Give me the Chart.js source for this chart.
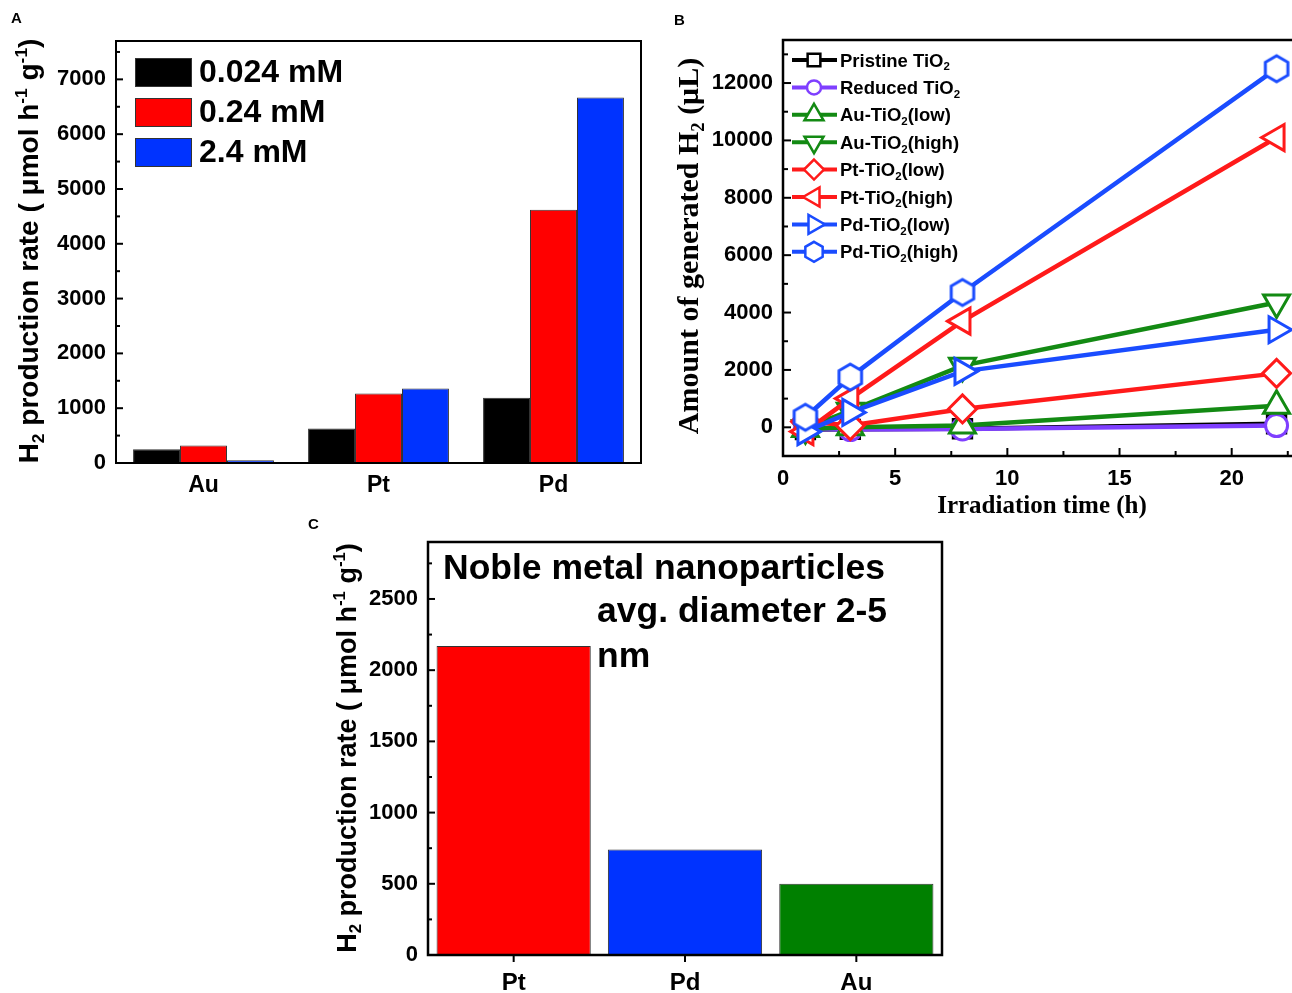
<!DOCTYPE html>
<html>
<head>
<meta charset="utf-8">
<script src="https://cdn.jsdelivr.net/npm/chart.js@4.4.1/dist/chart.umd.min.js"></script>
<style>
    html, body { margin: 0; padding: 0; background: #fff; overflow: hidden; width: 1292px; height: 993px; }
    canvas { position: absolute; }
    #chartA { left: 0; top: 0; }
    #chartB { left: 660px; top: 0; }
    #chartC { left: 300px; top: 510px; }
</style>
</head>
<body>
<canvas id="chartA" width="660" height="500" style="width:660px;height:500px"></canvas>
<canvas id="chartB" width="640" height="520" style="width:640px;height:520px"></canvas>
<canvas id="chartC" width="660" height="483" style="width:660px;height:483px"></canvas>
<script>
// ========== DATA ==========

// Panel A: rate vs precursor concentration
const metalsA = ['Au', 'Pt', 'Pd'];
const concLabels = ['0.024 mM', '0.24 mM', '2.4 mM'];
const rateLow = [250, 630, 1190];
const rateMid = [320, 1270, 4620];
const rateHigh = [50, 1360, 6670];
const yTicksA = [0, 1000, 2000, 3000, 4000, 5000, 6000, 7000];

// Panel B: generated H2 vs irradiation time
const timeH = [1, 3, 8, 22];
const seriesNamesB = ['Pristine TiO2', 'Reduced TiO2', 'Au-TiO2(low)', 'Au-TiO2(high)',
                      'Pt-TiO2(low)', 'Pt-TiO2(high)', 'Pd-TiO2(low)', 'Pd-TiO2(high)'];
const pristineTiO2 = [-80, -70, -50, 120];
const reducedTiO2 = [-60, -80, -60, 60];
const auLow = [-60, 0, 60, 750];
const auHigh = [-30, 580, 2150, 4350];
const ptLow = [200, 60, 640, 1880];
const ptHigh = [-150, 1000, 3700, 10100];
const pdLow = [-150, 520, 1950, 3400];
const pdHigh = [350, 1750, 4700, 12500];
const yTicksB = [0, 2000, 4000, 6000, 8000, 10000, 12000];
const xTicksB = [0, 5, 10, 15, 20];

// Panel C: rate by metal
const metalsC = ['Pt', 'Pd', 'Au'];
const rateC = [2170, 740, 500];
const yTicksC = [0, 500, 1000, 1500, 2000, 2500];

// ========== HELPERS ==========
const SANS = '"Liberation Sans", Arial, sans-serif';
const SERIF = '"Liberation Serif", "Times New Roman", serif';

// draws text made of parts [text, 'sub'|'sup'|''], centred (or left aligned) on x,y
function drawRich(ctx, parts, x, y, size, family, rotate, align) {
    ctx.save();
    ctx.translate(x, y);
    if (rotate) ctx.rotate(-Math.PI / 2);
    let total = 0;
    const items = parts.map(([t, k]) => {
        const fs = k ? size * 0.62 : size;
        ctx.font = `bold ${fs}px ${family}`;
        const w = ctx.measureText(t).width;
        total += w;
        return { t, k, fs, w };
    });
    let cx = align === 'left' ? 0 : -total / 2;
    ctx.textAlign = 'left';
    ctx.textBaseline = 'alphabetic';
    ctx.fillStyle = '#000';
    items.forEach(it => {
        ctx.font = `bold ${it.fs}px ${family}`;
        let dy = size * 0.36;
        if (it.k === 'sub') dy += size * 0.2;
        if (it.k === 'sup') dy -= size * 0.4;
        ctx.fillText(it.t, cx, dy);
        cx += it.w;
    });
    ctx.restore();
}

function frame(chart, lw) {
    const { ctx, chartArea: a } = chart;
    ctx.save();
    ctx.strokeStyle = '#000';
    ctx.lineWidth = lw;
    ctx.strokeRect(a.left, a.top, a.right - a.left, a.bottom - a.top);
    ctx.restore();
}

// inward ticks on the y axis (major + minor)
function yTicks(chart, step, majors, majLen, minLen) {
    const { ctx, chartArea: a } = chart;
    const s = chart.scales.y;
    ctx.save();
    ctx.strokeStyle = '#000';
    ctx.lineWidth = 2;
    const start = Math.ceil(s.min / step) * step;
    for (let v = start; v <= s.max; v += step) {
        const py = s.getPixelForValue(v);
        const len = majors.includes(v) ? majLen : minLen;
        ctx.beginPath();
        ctx.moveTo(a.left, py);
        ctx.lineTo(a.left + len, py);
        ctx.stroke();
    }
    ctx.restore();
}

function hexPath(ctx, x, y, r) {
    ctx.beginPath();
    for (let i = 0; i < 6; i++) {
        const ang = -Math.PI / 2 + i * Math.PI / 3;
        const px = x + r * Math.cos(ang), py = y + r * Math.sin(ang);
        if (i === 0) ctx.moveTo(px, py); else ctx.lineTo(px, py);
    }
    ctx.closePath();
}

function makeHexagon(r, color) {
    const c = document.createElement('canvas');
    const size = Math.ceil(2 * r + 6);
    c.width = size; c.height = size;
    const g = c.getContext('2d');
    hexPath(g, size / 2, size / 2, r);
    g.fillStyle = '#fff';
    g.fill();
    g.lineWidth = 3;
    g.strokeStyle = color;
    g.stroke();
    return c;
}

function drawMarker(ctx, style, rot, x, y, r, color) {
    ctx.save();
    ctx.beginPath();
    if (style === 'hex') {
        hexPath(ctx, x, y, r);
    } else if (style === 'rect') {
        const h = r * Math.SQRT1_2;
        ctx.rect(x - h, y - h, 2 * h, 2 * h);
    } else if (style === 'circle') {
        ctx.arc(x, y, r, 0, Math.PI * 2);
    } else if (style === 'rectRot') {
        ctx.moveTo(x, y - r); ctx.lineTo(x + r, y); ctx.lineTo(x, y + r); ctx.lineTo(x - r, y);
        ctx.closePath();
    } else if (style === 'triangle') {
        let rad = rot * Math.PI / 180;
        for (let i = 0; i < 3; i++) {
            const px = x + Math.sin(rad) * r, py = y - Math.cos(rad) * r;
            if (i === 0) ctx.moveTo(px, py); else ctx.lineTo(px, py);
            rad += 2 * Math.PI / 3;
        }
        ctx.closePath();
    }
    ctx.fillStyle = '#fff';
    ctx.fill();
    ctx.lineWidth = 2.5;
    ctx.strokeStyle = color;
    ctx.stroke();
    ctx.restore();
}

const plainNum = v => String(v);

Chart.defaults.font.family = SANS;
Chart.defaults.font.weight = 'bold';
Chart.defaults.color = '#000';
Chart.defaults.animation = false;

// ========== PANEL A ==========
const colorsA = ['#000000', '#ff0000', '#0033ff'];

const panelAPlugin = {
    id: 'panelA',
    afterDraw(chart) {
        const ctx = chart.ctx;
        frame(chart, 2);
        yTicks(chart, 500, yTicksA, 7, 4);
        // legend
        chart.data.datasets.forEach((ds, i) => {
            const y = 58 + i * 40;
            ctx.fillStyle = ds.backgroundColor;
            ctx.fillRect(135, y, 56, 28);
            ctx.strokeStyle = '#333';
            ctx.lineWidth = 1;
            ctx.strokeRect(135.5, y + 0.5, 56, 28);
            ctx.fillStyle = '#000';
            ctx.font = `bold 32px ${SANS}`;
            ctx.textBaseline = 'middle';
            ctx.textAlign = 'left';
            ctx.fillText(ds.label, 199, y + 15);
        });
        // titles
        drawRich(ctx, [['H', ''], ['2', 'sub'], [' production rate ( μmol h', ''], ['-1', 'sup'],
                       [' g', ''], ['-1', 'sup'], [')', '']], 28, 251, 28, SANS, true);
        ctx.font = `bold 15px ${SANS}`;
        ctx.textBaseline = 'middle';
        ctx.textAlign = 'left';
        ctx.fillText('A', 11, 19);
    }
};

new Chart(document.getElementById('chartA'), {
    type: 'bar',
    data: {
        labels: metalsA,
        datasets: [rateLow, rateMid, rateHigh].map((d, i) => ({
            label: concLabels[i],
            data: d,
            backgroundColor: colorsA[i],
            borderColor: '#333',
            borderWidth: 1,
            borderSkipped: 'bottom'
        }))
    },
    options: {
        responsive: false,
        devicePixelRatio: 1,
        layout: { autoPadding: false, padding: { left: 0, top: 41, right: 19, bottom: 0 } },
        datasets: { bar: { categoryPercentage: 0.805, barPercentage: 1 } },
        plugins: { legend: { display: false }, tooltip: { enabled: false } },
        scales: {
            x: {
                grid: { display: false, drawTicks: false },
                border: { display: false },
                ticks: { font: { size: 23 }, padding: 9 },
                afterFit: s => { s.height = 37; s.paddingLeft = 0; s.paddingRight = 0; }
            },
            y: {
                min: 0, max: 7700,
                afterBuildTicks: s => { s.ticks = yTicksA.map(v => ({ value: v })); },
                grid: { display: false, drawTicks: false },
                border: { display: false },
                ticks: { font: { size: 22 }, padding: 10, callback: plainNum },
                afterFit: s => { s.width = 116; }
            }
        }
    },
    plugins: [panelAPlugin]
});

// ========== PANEL B ==========
const colorsB = ['#000000', '#7f3fff', '#138a13', '#138a13', '#ff1a1a', '#ff1a1a', '#1a4cff', '#1a4cff'];
const stylesB = [
    ['rect', 0, 13], ['circle', 0, 11], ['triangle', 0, 15], ['triangle', 180, 15],
    ['rectRot', 0, 14], ['triangle', 270, 15], ['triangle', 90, 15], ['hex', 0, 13]
];
const legendR = [9, 7, 11, 11, 10, 11, 11, 10];
const valuesB = [pristineTiO2, reducedTiO2, auLow, auHigh, ptLow, ptHigh, pdLow, pdHigh];

const panelBPlugin = {
    id: 'panelB',
    afterDraw(chart) {
        const { ctx, chartArea: a } = chart;
        frame(chart, 2.5);
        yTicks(chart, 1000, yTicksB, 8, 5);
        // x ticks inward
        const xs = chart.scales.x;
        ctx.save();
        ctx.strokeStyle = '#000';
        ctx.lineWidth = 2;
        for (let v = 0; v <= xs.max; v += 2.5) {
            const px = xs.getPixelForValue(v);
            const len = xTicksB.includes(v) ? 8 : 5;
            ctx.beginPath();
            ctx.moveTo(px, a.bottom);
            ctx.lineTo(px, a.bottom - len);
            ctx.stroke();
        }
        ctx.restore();
        // legend
        chart.data.datasets.forEach((ds, i) => {
            const y = 60 + i * 27.4;
            ctx.save();
            ctx.strokeStyle = ds.borderColor;
            ctx.lineWidth = 4;
            ctx.beginPath();
            ctx.moveTo(132, y);
            ctx.lineTo(177, y);
            ctx.stroke();
            ctx.restore();
            drawMarker(ctx, stylesB[i][0], stylesB[i][1], 154, y, legendR[i], ds.borderColor);
            const name = seriesNamesB[i];
            const k = name.indexOf('TiO2') + 3;
            drawRich(ctx, [[name.slice(0, k), ''], ['2', 'sub'], [name.slice(k + 1), '']],
                     180, y, 18.5, SANS, false, 'left');
        });
        // titles
        drawRich(ctx, [['Amount of generated H', ''], ['2', 'sub'], [' (μL)', '']],
                 27, 246, 30, SERIF, true);
        drawRich(ctx, [['Irradiation time (h)', '']], 382, 504, 25, SERIF, false);
        ctx.font = `bold 15px ${SANS}`;
        ctx.textBaseline = 'middle';
        ctx.textAlign = 'left';
        ctx.fillStyle = '#000';
        ctx.fillText('B', 14, 21);
    }
};

new Chart(document.getElementById('chartB'), {
    type: 'line',
    data: {
        datasets: valuesB.map((vals, i) => ({
            label: seriesNamesB[i],
            data: vals.map((v, j) => ({ x: timeH[j], y: v })),
            borderColor: colorsB[i],
            borderWidth: 4.5,
            pointStyle: stylesB[i][0] === 'hex' ? makeHexagon(stylesB[i][2], colorsB[i]) : stylesB[i][0],
            pointRotation: stylesB[i][1],
            pointRadius: stylesB[i][2],
            pointBorderWidth: 3,
            pointBorderColor: colorsB[i],
            pointBackgroundColor: '#ffffff',
            tension: 0,
            order: valuesB.length - i,
            clip: false
        }))
    },
    options: {
        responsive: false,
        devicePixelRatio: 1,
        layout: { autoPadding: false, padding: { left: 0, top: 40, right: 1, bottom: 0 } },
        plugins: { legend: { display: false }, tooltip: { enabled: false } },
        scales: {
            x: {
                type: 'linear',
                min: 0, max: 23,
                afterBuildTicks: s => { s.ticks = xTicksB.map(v => ({ value: v })); },
                grid: { display: false, drawTicks: false },
                border: { display: false },
                ticks: { font: { size: 22 }, padding: 10, callback: plainNum },
                afterFit: s => { s.height = 64; s.paddingLeft = 0; s.paddingRight = 0; }
            },
            y: {
                min: -1000, max: 13500,
                afterBuildTicks: s => { s.ticks = yTicksB.map(v => ({ value: v })); },
                grid: { display: false, drawTicks: false },
                border: { display: false },
                ticks: { font: { size: 22 }, padding: 10, callback: plainNum },
                afterFit: s => { s.width = 123; }
            }
        }
    },
    plugins: [panelBPlugin]
});

// ========== PANEL C ==========
const colorsC = ['#ff0000', '#0033ff', '#008000'];

const panelCPlugin = {
    id: 'panelC',
    afterDraw(chart) {
        const { ctx, chartArea: a } = chart;
        frame(chart, 2.5);
        yTicks(chart, 250, yTicksC, 7, 4);
        // outward category ticks
        const xs = chart.scales.x;
        ctx.save();
        ctx.strokeStyle = '#000';
        ctx.lineWidth = 2;
        xs.ticks.forEach((t, i) => {
            const px = xs.getPixelForTick(i);
            ctx.beginPath();
            ctx.moveTo(px, a.bottom);
            ctx.lineTo(px, a.bottom + 7);
            ctx.stroke();
        });
        ctx.restore();
        // note
        ctx.fillStyle = '#000';
        ctx.font = `bold 35.5px ${SANS}`;
        ctx.textBaseline = 'middle';
        ctx.textAlign = 'left';
        ctx.fillText('Noble metal nanoparticles', 143, 59);
        ctx.fillText('avg. diameter 2-5', 297, 102);
        ctx.fillText('nm', 297, 147);
        // titles
        drawRich(ctx, [['H', ''], ['2', 'sub'], [' production rate ( μmol h', ''], ['-1', 'sup'],
                       [' g', ''], ['-1', 'sup'], [')', '']], 46, 238, 27, SANS, true);
        ctx.font = `bold 15px ${SANS}`;
        ctx.textBaseline = 'middle';
        ctx.fillText('C', 8, 15);
    }
};

new Chart(document.getElementById('chartC'), {
    type: 'bar',
    data: {
        labels: metalsC,
        datasets: [{
            data: rateC,
            backgroundColor: colorsC,
            borderColor: '#333',
            borderWidth: 1,
            borderSkipped: 'bottom'
        }]
    },
    options: {
        responsive: false,
        devicePixelRatio: 1,
        layout: { autoPadding: false, padding: { left: 0, top: 32, right: 18, bottom: 0 } },
        datasets: { bar: { categoryPercentage: 0.9, barPercentage: 1 } },
        plugins: { legend: { display: false }, tooltip: { enabled: false } },
        scales: {
            x: {
                grid: { display: false, drawTicks: false },
                border: { display: false },
                ticks: { font: { size: 24 }, padding: 14 },
                afterFit: s => { s.height = 38; s.paddingLeft = 0; s.paddingRight = 0; }
            },
            y: {
                min: 0, max: 2900,
                afterBuildTicks: s => { s.ticks = yTicksC.map(v => ({ value: v })); },
                grid: { display: false, drawTicks: false },
                border: { display: false },
                ticks: { font: { size: 22 }, padding: 10, callback: plainNum },
                afterFit: s => { s.width = 128; }
            }
        }
    },
    plugins: [panelCPlugin]
});
</script>
</body>
</html>
